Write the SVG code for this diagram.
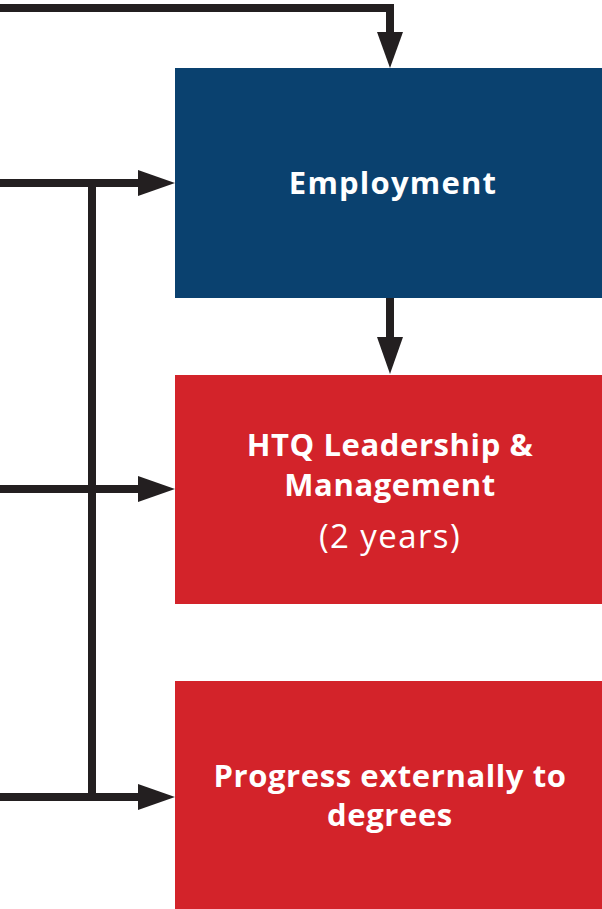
<svg xmlns="http://www.w3.org/2000/svg" width="602" height="909" viewBox="0 0 602 909">
<defs>
<style>
.conn{fill:none;stroke:#231f20;stroke-width:8;}
.head{fill:#231f20;}
.t{font-family:"Open Sans","Liberation Sans",sans-serif;fill:#ffffff;text-anchor:middle;}
.b{font-weight:700;font-size:31px;letter-spacing:0.6px;}
.e{letter-spacing:1.2px;}
.r{font-weight:400;font-size:33px;letter-spacing:1.4px;}
</style>
</defs>
<rect width="602" height="909" fill="#ffffff"/>
<g id="connectors">
<polyline class="conn" points="0,8 390,8 390,34"/>
<polygon class="head" points="377,32 403,32 390,68"/>
<line class="conn" x1="390" y1="298" x2="390" y2="339"/>
<polygon class="head" points="377,337 403,337 390,374"/>
<line class="conn" x1="0" y1="183" x2="140" y2="183"/>
<polygon class="head" points="138,170 138,196 175,183"/>
<line class="conn" x1="0" y1="489" x2="140" y2="489"/>
<polygon class="head" points="138,476 138,502 175,489"/>
<line class="conn" x1="0" y1="797" x2="140" y2="797"/>
<polygon class="head" points="138,784 138,810 175,797"/>
<line class="conn" x1="92" y1="179" x2="92" y2="801"/>
</g>
<g id="employment">
<rect x="175" y="68" width="427" height="230" fill="#0a416f"/>
<text class="t b e" x="393" y="194">Employment</text>
</g>
<g id="htq">
<rect x="175" y="375" width="427" height="229" fill="#d3232a"/>
<text class="t b" x="390" y="456">HTQ Leadership &amp;</text>
<text class="t b" x="390" y="496">Management</text>
<text class="t r" x="390" y="548">(2 years)</text>
</g>
<g id="progress">
<rect x="175" y="681" width="427" height="228" fill="#d3232a"/>
<text class="t b" x="390" y="787">Progress externally to</text>
<text class="t b" x="390" y="826">degrees</text>
</g>
</svg>
